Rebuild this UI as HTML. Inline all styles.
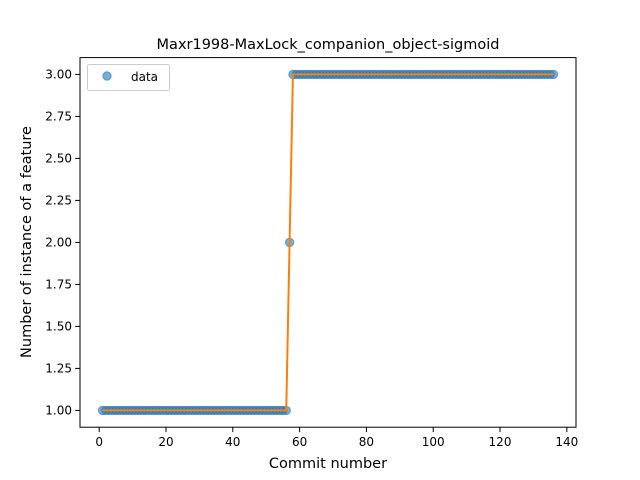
<!DOCTYPE html>
<html><head><meta charset="utf-8"><style>
body{margin:0;background:#fff;}
svg{display:block;font-family:"DejaVu Sans","Liberation Sans",sans-serif;}
</style></head><body>
<svg id="chart" width="640" height="480" viewBox="0 0 640 480">
<rect x="0" y="0" width="640" height="480" fill="#fff"/>
<text x="328" y="49" text-anchor="middle" font-size="14.5" fill="#000">Maxr1998-MaxLock_companion_object-sigmoid</text>
<g id="plot"></g>
<text x="328" y="468" text-anchor="middle" font-size="14.5" fill="#000">Commit number</text>
<text transform="translate(31,242) rotate(-90)" text-anchor="middle" font-size="14.5" fill="#000">Number of instance of a feature</text>
</svg>
<script>
const commits = [];
const dataValues = [];
const fitValues = [];
for (let i = 1; i <= 136; i++) { commits.push(i); }
const lowCount = 56, midValue = 2;
for (let i = 1; i <= 136; i++) { dataValues.push(i <= lowCount ? 1 : (i === 57 ? midValue : 3)); }
for (let i = 1; i <= 136; i++) { fitValues.push(i <= lowCount ? 1 : (i === 57 ? 2 : 3)); }
const xTicks = [0, 20, 40, 60, 80, 100, 120, 140];
const yTicks = [1.00, 1.25, 1.50, 1.75, 2.00, 2.25, 2.50, 2.75, 3.00];

const L = 80, R = 576, T = 57.6, B = 427.2;
const xmin = -5.75, xmax = 142.75, ymin = 0.9, ymax = 3.1;
const xs = v => L + (v - xmin) / (xmax - xmin) * (R - L);
const ys = v => B - (v - ymin) / (ymax - ymin) * (B - T);
const NS = "http://www.w3.org/2000/svg";
const g = document.getElementById('plot');
function mk(tag, attrs, parent) {
  const e = document.createElementNS(NS, tag);
  for (const k in attrs) e.setAttribute(k, attrs[k]);
  (parent || g).appendChild(e);
  return e;
}
const pts = mk('g', {});


commits.forEach((c, i) => {
  const p = mk('circle', {cx: xs(c), cy: ys(dataValues[i]), r: 4.2, fill: '#1f77b4', 'fill-opacity': 0.6, stroke: '#1f77b4', 'stroke-opacity': 0.6, 'stroke-width': 1}, pts);
  
  
});
const line = mk('polyline', {points: commits.map((c, i) => xs(c) + ',' + ys(fitValues[i])).join(' '), fill: 'none', stroke: '#ff7f0e', 'stroke-width': 2});


const fr = mk('rect', {x: L, y: T, width: R - L, height: B - T, fill: 'none', stroke: '#000', 'stroke-width': 1});


xTicks.forEach(t => {
  const x = xs(t);
  const tk = mk('line', {x1: x, x2: x, y1: B, y2: B + 4.9, stroke: '#000', 'stroke-width': 1});
  
  
  const tx = mk('text', {x: x, y: B + 19, 'text-anchor': 'middle', 'font-size': 12});
  tx.textContent = t;
  
  
});
yTicks.forEach(t => {
  const y = ys(t);
  const tk = mk('line', {x1: L - 4.9, x2: L, y1: y, y2: y, stroke: '#000', 'stroke-width': 1});
  
  
  const tx = mk('text', {x: L - 8, y: y + 4.3, 'text-anchor': 'end', 'font-size': 12});
  tx.textContent = t.toFixed(2);
  
  
});
const lg = mk('g', {});


mk('rect', {x: 87.5, y: 64.5, width: 82, height: 26, rx: 2, fill: '#fff', 'fill-opacity': 0.8, stroke: '#ccc'}, lg);
const lm = mk('circle', {cx: 107, cy: 76, r: 4.2, fill: '#1f77b4', 'fill-opacity': 0.6, stroke: '#1f77b4', 'stroke-opacity': 0.6, 'stroke-width': 1}, lg);


const lt = mk('text', {x: 131, y: 81, 'font-size': 12}, lg);
lt.textContent = 'data';


</script>
</body></html>
